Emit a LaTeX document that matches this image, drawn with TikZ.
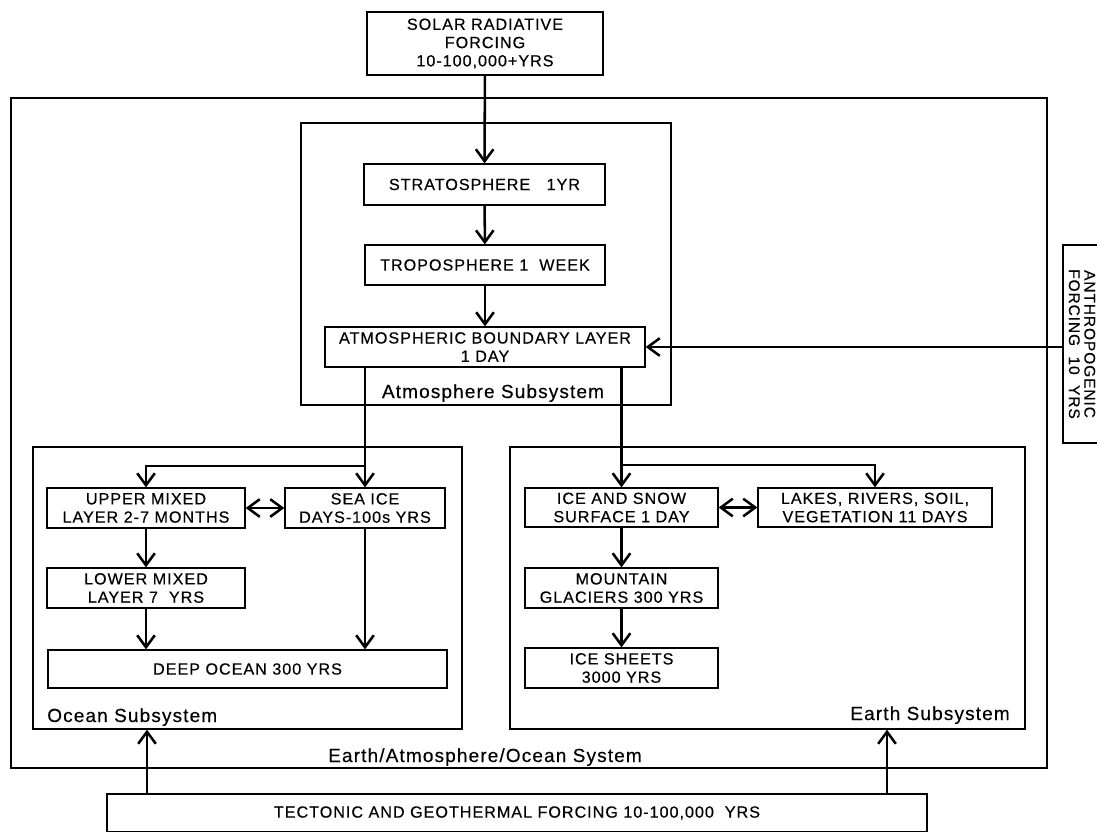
\documentclass[tikz,border=0pt]{standalone}
\usepackage{fontspec}
\setmainfont[LetterSpace=6, FakeBold=0.4]{Liberation Sans}
\usepackage{tikz}
\usetikzlibrary{positioning, arrows.meta, calc}

\begin{document}
\begin{tikzpicture}[
    x=0.025cm, y=-0.025cm,
    box/.style 2 args={rectangle, draw, line width=0.9pt, inner sep=0pt,
                minimum width=#1*0.025cm, minimum height=#2*0.025cm,
                font=\fontsize{11.5}{13}\selectfont, align=center},
    group/.style 2 args={rectangle, draw, line width=0.9pt, inner sep=0pt,
                minimum width=#1*0.025cm, minimum height=#2*0.025cm},
    tag/.style={font=\fontsize{13.5}{15}\selectfont, inner sep=0pt},
    arr/.style={-{Straight Barb[length=3mm, width=4.4mm]}, line width=1.8pt},
    dbl/.style={{Straight Barb[length=3mm, width=4.4mm]}-{Straight Barb[length=3mm, width=4.4mm]}, line width=1.8pt},
]
\useasboundingbox (0,0) rectangle (1097,831);

% Containers
\node[group={1036}{670}, line width=1.3pt] (system) at (529,433) {};
\node[group={370}{282}] (atmos) at (486,264) {};
\node[group={429}{282}] (ocean) at (247.5,588) {};
\node[group={515}{282}] (earth) at (767.5,588) {};

% Container labels
\node[tag, anchor=base] (atmoslbl) at (493,398) {Atmosphere Subsystem};
\node[tag, anchor=base west] (oceanlbl) at (47,722) {Ocean Subsystem};
\node[tag, anchor=base east] (earthlbl) at (1010,720) {Earth Subsystem};
\node[tag, anchor=base] (systemlbl) at (485,762) {Earth/Atmosphere/Ocean System};

% Forcings
\node[box={236}{63}] (solar) at (485,43.5) {SOLAR RADIATIVE\\FORCING\\10-100,000+YRS};
\node[box={198}{38}, rotate=-90, font=\fontsize{11}{11}\selectfont] (anthro) at (1082,344) {ANTHROPOGENIC\\FORCING\ \ 10\ \ YRS};
\node[box={820}{38}] (tecto) at (517,813) {TECTONIC AND GEOTHERMAL FORCING 10-100,000\ \ YRS};

% Atmosphere
\node[box={241}{41}] (strato) at (484.5,184.5) {STRATOSPHERE\ \ \ 1YR};
\node[box={240}{40}] (tropo) at (485,265) {TROPOSPHERE 1\ \ WEEK};
\node[box={320}{40}] (abl) at (485,347) {ATMOSPHERIC BOUNDARY LAYER\\1 DAY};

% Ocean
\node[box={198}{40}] (upper) at (146,508) {UPPER MIXED\\LAYER 2-7 MONTHS};
\node[box={160}{40}] (seaice) at (365,508) {SEA ICE\\DAYS-100s YRS};
\node[box={198}{40}] (lower) at (146,588) {LOWER MIXED\\LAYER 7\ \ YRS};
\node[box={399}{38}] (deep) at (247.5,669) {DEEP OCEAN 300 YRS};

% Earth
\node[box={193}{39}] (icesnow) at (621.5,507.5) {ICE AND SNOW\\SURFACE 1 DAY};
\node[box={234}{39}] (lakes) at (875,507.5) {LAKES, RIVERS, SOIL,\\VEGETATION 11 DAYS};
\node[box={193}{40}] (glaciers) at (621.5,588) {MOUNTAIN\\GLACIERS 300 YRS};
\node[box={193}{40}] (sheets) at (621.5,668) {ICE SHEETS\\3000 YRS};

% Branch points
\coordinate (osplit) at (365,466);
\coordinate (esplit) at (621.5,465);
\coordinate (tin1) at (147,794);
\coordinate (tin2) at (887,794);

% Arrows - atmosphere
\draw[arr] (solar) -- (strato);
\draw[arr] (strato) -- (tropo);
\draw[arr] (tropo) -- (abl);
\draw[arr] (anthro.south |- abl.east) -- (abl.east);

% Arrows - ocean
\draw[arr] (abl.south -| osplit) -- (seaice.north);
\draw[arr] (osplit) -| (upper.north);
\draw[dbl] (upper) -- (seaice);
\draw[arr] (upper) -- (lower);
\draw[arr] (lower.south) -- (lower.south |- deep.north);
\draw[arr] (seaice.south) -- (seaice.south |- deep.north);

% Arrows - earth
\draw[arr] (abl.south -| esplit) -- (icesnow.north);
\draw[arr] (esplit) -| (lakes.north);
\draw[dbl] (icesnow) -- (lakes);
\draw[arr] (icesnow) -- (glaciers);
\draw[arr] (glaciers) -- (sheets);

% Arrows - tectonic
\draw[arr] (tin1) -- (tin1 |- ocean.south);
\draw[arr] (tin2) -- (tin2 |- earth.south);

\end{tikzpicture}
\end{document}
